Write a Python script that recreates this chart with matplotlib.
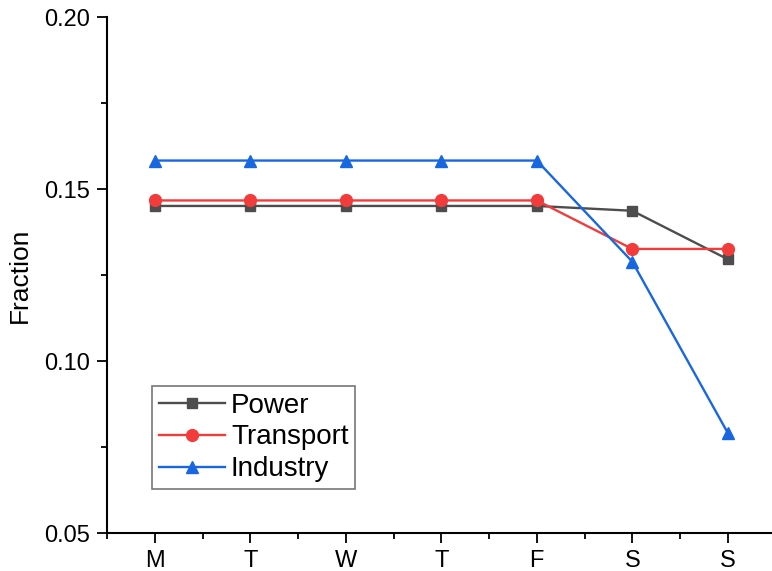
import matplotlib.pyplot as plt
from matplotlib.ticker import MultipleLocator

plt.rcParams['font.family'] = ['Liberation Sans', 'DejaVu Sans']

days = ["M", "T", "W", "T", "F", "S", "S"]
power = [0.1451, 0.1451, 0.1451, 0.1451, 0.1451, 0.1437, 0.1296]
transport = [0.1467, 0.1467, 0.1467, 0.1467, 0.1467, 0.1326, 0.1326]
industry = [0.1583, 0.1583, 0.1583, 0.1583, 0.1583, 0.1289, 0.0791]

x = list(range(1, len(days) + 1))

fig = plt.figure(figsize=(7.72, 5.71), dpi=100)
ax = fig.add_axes([0.1386, 0.0665, 0.866, 0.9035])

ax.plot(x, power, color="#4d4d4d", marker="s", markersize=7.5, lw=1.7, label="Power")
ax.plot(x, transport, color="#f23c3c", marker="o", markersize=8.5, lw=1.7, label="Transport")
ax.plot(x, industry, color="#1967e0", marker="^", markersize=9, lw=1.7, label="Industry")

ax.set_xlim(0.5, 7.5)
ax.set_ylim(0.05, 0.20)
ax.set_xticks(x)
ax.set_xticklabels(days)
ax.xaxis.set_minor_locator(MultipleLocator(0.5))
ax.yaxis.set_major_locator(MultipleLocator(0.05))
ax.yaxis.set_minor_locator(MultipleLocator(0.025))
ax.set_yticklabels([f"{v:.2f}" for v in ax.get_yticks()])

for s in ("top", "right"):
    ax.spines[s].set_visible(False)
for s in ("left", "bottom"):
    ax.spines[s].set_linewidth(1.5)

ax.tick_params(which="major", length=7, width=1.3, labelsize=17, pad=5)
ax.tick_params(which="minor", length=4, width=1.3)
ax.set_ylabel("Fraction", fontsize=19, labelpad=9)

leg = ax.legend(loc="lower left", bbox_to_anchor=(0.067, 0.085), fontsize=20,
                frameon=True, fancybox=False, edgecolor="#555555",
                handlelength=2.4, handletextpad=0.2, borderpad=0.25,
                labelspacing=0.21, borderaxespad=0)
leg.get_frame().set_linewidth(1.2)

fig.savefig("out.png", dpi=100)
